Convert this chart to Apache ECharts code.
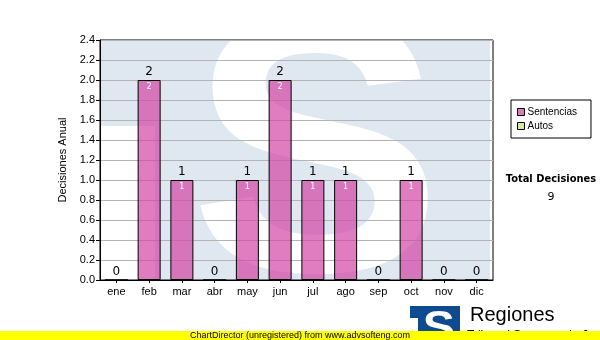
<!DOCTYPE html>
<html><head><meta charset="utf-8">
<script src="https://cdn.jsdelivr.net/npm/echarts@6/dist/echarts.min.js"></script>
<style>html,body{margin:0;padding:0;background:#fff}#c{width:600px;height:340px}</style>
</head><body><div id="c"></div>
<script>
const categories = ['ene','feb','mar','abr','may','jun','jul','ago','sep','oct','nov','dic'];
const sentencias = [0,2,1,0,1,2,1,1,0,1,0,0];
const autos = [0,0,0,0,0,0,0,0,0,0,0,0];
const yTicks = {min:0, max:2.4, interval:0.2};
const totalDecisiones = 9;

const totals = sentencias.map((v,i)=>v+autos[i]);
const F = 'Liberation Sans, Arial, sans-serif';
const WM = '#dfe8f0';
function poly(pts,fill,z){ return {type:'polygon', z:z, shape:{points:pts}, style:{fill:fill}}; }
const chart = echarts.init(document.getElementById('c'), null, {renderer:'canvas'});
chart.setOption({
  animation:false,
  backgroundColor:'#fff',
  grid:{left:100, top:40, right:107, bottom:60, show:true, borderColor:'#000', borderWidth:1, backgroundColor:'transparent'},
  legend:{
    orient:'vertical', left:511, top:100, padding:[7,14,7,6], itemGap:4,
    itemWidth:7, itemHeight:7, borderColor:'#000', borderWidth:1,
    textStyle:{fontFamily:F, fontSize:10, color:'#000', padding:[0,0,0,-2]},
    data:[
      {name:'Sentencias', icon:'rect', itemStyle:{color:'#dd7ac0', borderColor:'#000', borderWidth:1}},
      {name:'Autos', icon:'rect', itemStyle:{color:'#d8eaa0', borderColor:'#000', borderWidth:1}}
    ]
  },
  xAxis:{type:'category', data:categories, boundaryGap:true,
    axisLine:{lineStyle:{color:'#000', width:1}},
    axisTick:{show:true, alignWithLabel:true, length:3, lineStyle:{color:'#000'}},
    axisLabel:{fontFamily:F, fontSize:11, color:'#000', margin:6}},
  yAxis:{type:'value', min:yTicks.min, max:yTicks.max, interval:yTicks.interval,
    name:'Decisiones Anual', nameLocation:'middle', nameGap:25, nameRotate:90,
    nameTextStyle:{fontFamily:F, fontSize:11, color:'#000'},
    axisLine:{show:true, lineStyle:{color:'#000'}},
    axisTick:{show:true, length:4, lineStyle:{color:'#000'}},
    axisLabel:{fontFamily:F, fontSize:11, color:'#000', margin:5, formatter:v=>v.toFixed(1)},
    splitLine:{lineStyle:{color:'#b4b4b4', width:1}}},
  graphic:{elements:[
    poly([[100,40],[490,40],[490,280],[100,280]],WM,-20),
    poly([[100,126],[155,126],[155,280],[100,280]],'#fff',-15),
    {type:'text', z:-10, scaleX:1.04, originX:316, originY:170,
      style:{text:'S', x:316, y:170, textAlign:'center', textVerticalAlign:'middle', font:'bold 365px "Liberation Sans"', fill:'#fff'}},
    poly([[0,0],[600,0],[600,40],[0,40]],'#fff',-5),
    poly([[0,0],[100,0],[100,340],[0,340]],'#fff',-5),
    poly([[493,0],[600,0],[600,340],[493,340]],'#fff',-5),
    poly([[0,280],[600,280],[600,340],[0,340]],'#fff',-5),
    {type:'text', z:10, style:{text:'Total Decisiones', x:551, y:179, textAlign:'center', textVerticalAlign:'middle', font:'bold 11px "DejaVu Sans Condensed"', fill:'#000'}},
    {type:'text', z:10, style:{text:String(totalDecisiones), x:551, y:197, textAlign:'center', textVerticalAlign:'middle', font:'11px "DejaVu Sans"', fill:'#000'}},
    poly([[410,306],[460,306],[460,336],[418,336],[418,318],[410,318]],'#0d4a8f',10),
    {type:'text', z:11, scaleX:1.1, originX:439, originY:330, style:{text:'S', x:439, y:330, textAlign:'center', textVerticalAlign:'middle', font:'bold 44px "Liberation Sans"', fill:'#fff'}},
    {type:'text', z:10, style:{text:'Regiones', x:470, y:315, textVerticalAlign:'middle', font:'20px "Liberation Sans"', fill:'#000'}},
    {type:'text', z:10, style:{text:'Tribunal Supremo de Justicia', x:467, y:330, textVerticalAlign:'top', font:'12px "Liberation Sans"', fill:'#000'}},
    poly([[0,331],[600,331],[600,340],[0,340]],'#ffff00',20),
    {type:'text', z:21, style:{text:'ChartDirector (unregistered) from www.advsofteng.com', x:190, y:335.5, textVerticalAlign:'middle', font:'9px "Liberation Sans"', fill:'#000'}}
  ]},
  series:[
    {name:'Sentencias', type:'bar', stack:'a', data:sentencias, barWidth:23,
      itemStyle:{color:'rgba(211,68,165,0.7)', borderColor:'#000', borderWidth:1},
      label:{show:true, position:'insideTop', distance:3, color:'#fff', fontFamily:'DejaVu Sans', fontSize:8,
        formatter:p=>p.value? String(p.value):''}},
    {name:'Autos', type:'bar', stack:'a', data:autos, barWidth:23,
      itemStyle:{color:'#d8eaa0', borderWidth:0},
      label:{show:true, position:'top', distance:2, color:'#000', fontFamily:'DejaVu Sans', fontSize:12,
        formatter:p=>String(totals[p.dataIndex])}}
  ]
});
</script></body></html>
